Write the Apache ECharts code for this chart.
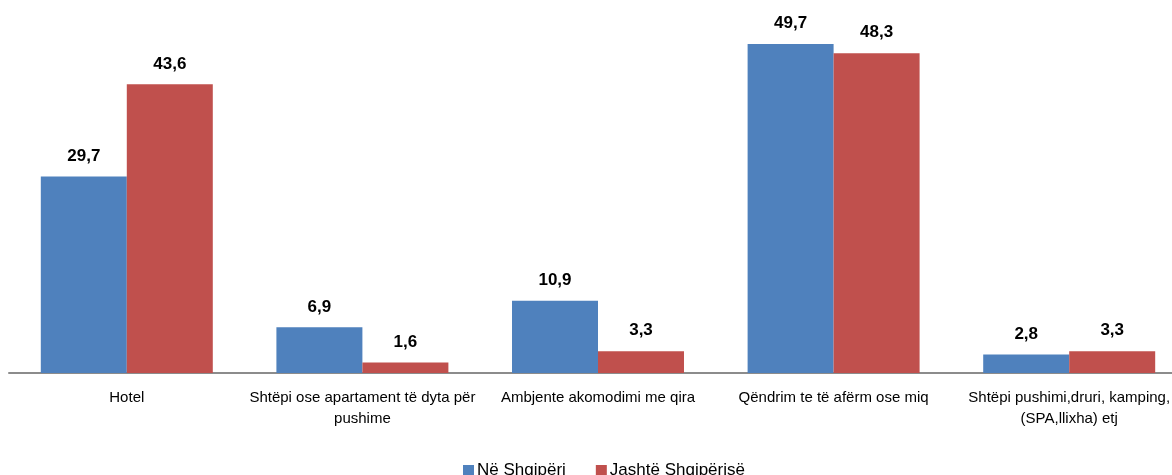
<!DOCTYPE html>
<html><head><meta charset="utf-8">
<script src="https://cdn.jsdelivr.net/npm/echarts@6/dist/echarts.min.js"></script>
<style>html,body{margin:0;padding:0;background:#fff;overflow:hidden}#c{width:1190px;height:475px}</style>
</head><body><div id="c"></div>
<script>
const categories = ["Hotel", "Shtëpi ose apartament të dyta për pushime", "Ambjente akomodimi me qira", "Qëndrim te të afërm ose miq", "Shtëpi pushimi,druri, kamping, (SPA,llixha) etj"];
const tickLabels = ["Hotel", "Shtëpi ose apartament të dyta për\npushime", "Ambjente akomodimi me qira", "Qëndrim te të afërm ose miq", "Shtëpi pushimi,druri, kamping,\n(SPA,llixha) etj"];
const seriesNames = ["Në Shqipëri", "Jashtë Shqipërisë"];
const inAlbania = [29.7, 6.9, 10.9, 49.7, 2.8];
const abroad = [43.6, 1.6, 3.3, 48.3, 3.3];

const FONT = "'Liberation Sans', Arial, sans-serif";
const chart = echarts.init(document.getElementById('c'), null, {renderer: 'canvas'});
const fmt = p => p.value.toFixed(1).replace('.', ',');
const labelCfg = {show: true, position: 'top', distance: 12, formatter: fmt,
  fontFamily: FONT, fontSize: 17, fontWeight: 'bold', color: '#000'};
chart.setOption({
  animation: false,
  textStyle: {fontFamily: FONT},
  grid: {left: 9, right: 3, top: 42, bottom: 102, containLabel: false},
  legend: {top: 457, left: 458, itemWidth: 11, itemHeight: 11, itemGap: 30,
    icon: 'rect', textStyle: {fontFamily: FONT, fontSize: 17, color: '#000', padding: [0, 0, 0, -2]},
    data: seriesNames},
  xAxis: {type: 'category', data: categories,
    axisLine: {lineStyle: {color: '#8c8c8c', width: 2}},
    axisTick: {show: false},
    axisLabel: {interval: 0, margin: 14, fontFamily: FONT, fontSize: 15, color: '#000', lineHeight: 21,
      formatter: (v, i) => tickLabels[i]}},
  yAxis: {type: 'value', min: 0, max: 50, show: false, splitLine: {show: false}},
  series: [
    {name: seriesNames[0], type: 'bar', data: inAlbania, barGap: '0%', barCategoryGap: '27%',
      itemStyle: {color: '#4F81BD'}, label: labelCfg},
    {name: seriesNames[1], type: 'bar', data: abroad,
      itemStyle: {color: '#C0504D'}, label: labelCfg}
  ]
});
</script></body></html>
